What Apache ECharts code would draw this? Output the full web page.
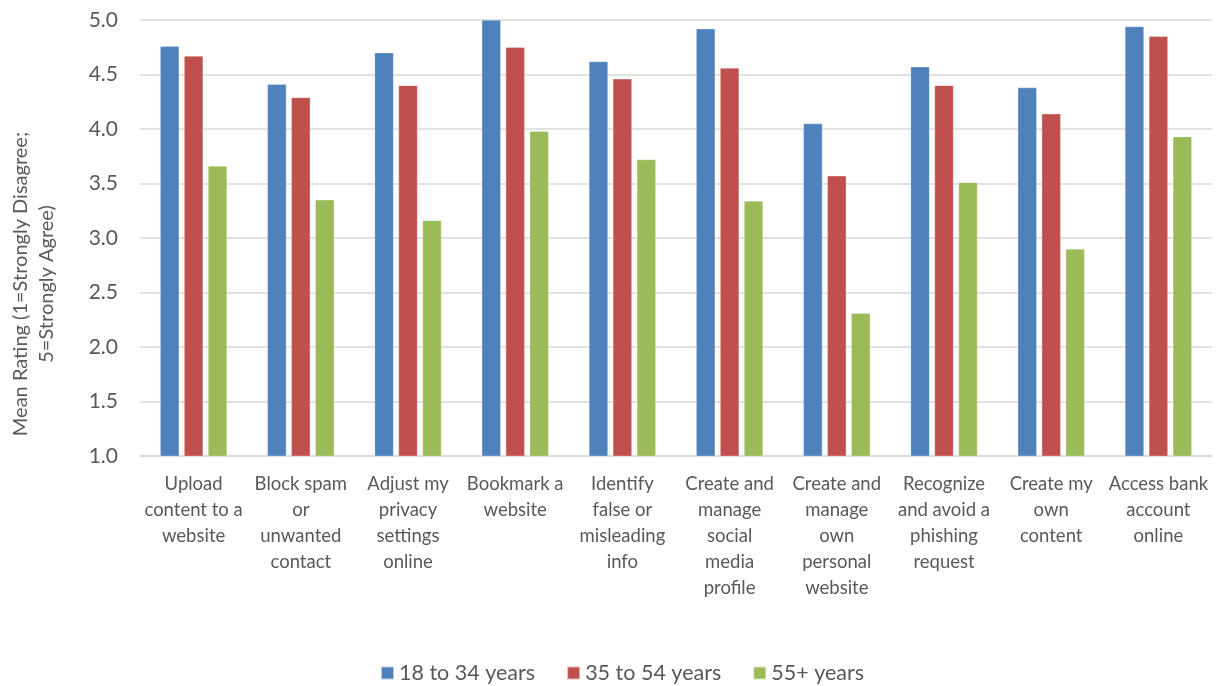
<!DOCTYPE html>
<html>
<head>
<meta charset="utf-8">
<script src="https://cdn.jsdelivr.net/npm/echarts@6/dist/echarts.min.js"></script>
<style>
html,body{margin:0;padding:0;background:#fff;}
#chart{width:1221px;height:686px;}
</style>
</head>
<body>
<div id="chart"></div>
<script>
var categories = [
  "Upload\ncontent to a\nwebsite",
  "Block spam\nor\nunwanted\ncontact",
  "Adjust my\nprivacy\nsettings\nonline",
  "Bookmark a\nwebsite",
  "Identify\nfalse or\nmisleading\ninfo",
  "Create and\nmanage\nsocial\nmedia\nprofile",
  "Create and\nmanage\nown\npersonal\nwebsite",
  "Recognize\nand avoid a\nphishing\nrequest",
  "Create my\nown\ncontent",
  "Access bank\naccount\nonline"
];
var seriesNames = ["18 to 34 years", "35 to 54 years", "55+ years"];
var age18to34 = [4.76, 4.41, 4.70, 5.00, 4.62, 4.92, 4.05, 4.57, 4.38, 4.94];
var age35to54 = [4.67, 4.29, 4.40, 4.75, 4.46, 4.56, 3.57, 4.40, 4.14, 4.85];
var age55plus = [3.66, 3.35, 3.16, 3.98, 3.72, 3.34, 2.31, 3.51, 2.90, 3.93];
var yAxisTitle = "Mean Rating (1=Strongly Disagree;\n5=Strongly Agree)";

var colors = ["#4F81BD", "#C0504D", "#9BBB59"];
var font = "Lato, 'Noto Sans', sans-serif";
var textColor = "#595959";

var chart = echarts.init(document.getElementById('chart'));
function mkSeries(name, data, i) {
  return {
    name: name, type: 'bar', data: data,
    barWidth: 19, barGap: '26%',
    itemStyle: { color: colors[i], borderColor: 'rgba(255,255,255,0.6)', borderWidth: 0.5 }
  };
}
chart.setOption({
  animation: false,
  textStyle: { fontFamily: font },
  grid: { left: 140, right: 9, top: 20, bottom: 230, containLabel: false, outerBoundsMode: 'none' },
  legend: {
    bottom: 2, left: 380, padding: 0,
    icon: 'rect', itemWidth: 13, itemHeight: 13, itemGap: 31, itemTextGap: 7,
    textStyle: { fontFamily: font, fontSize: 21.5, color: textColor },
    data: seriesNames
  },
  xAxis: {
    type: 'category', data: categories,
    axisLine: { lineStyle: { color: '#d9d9d9', width: 1.5 } },
    axisTick: { show: false },
    axisLabel: { interval: 0, fontFamily: font, fontSize: 18.5, color: textColor, lineHeight: 26, margin: 15 }
  },
  yAxis: {
    type: 'value', min: 1, max: 5, interval: 0.5,
    name: yAxisTitle, nameLocation: 'middle', nameGap: 80, nameRotate: 90,
    nameTextStyle: { fontFamily: font, fontSize: 20, color: textColor, lineHeight: 26, padding: [0, 92, 0, 0] },
    axisLine: { show: false }, axisTick: { show: false },
    splitLine: { lineStyle: { color: '#d9d9d9', width: 1.5 } },
    axisLabel: { fontFamily: font, fontSize: 21, color: textColor, margin: 22,
      formatter: function (v) { return v.toFixed(1); } }
  },
  series: [
    mkSeries(seriesNames[0], age18to34, 0),
    mkSeries(seriesNames[1], age35to54, 1),
    mkSeries(seriesNames[2], age55plus, 2)
  ]
});
</script>
</body>
</html>
